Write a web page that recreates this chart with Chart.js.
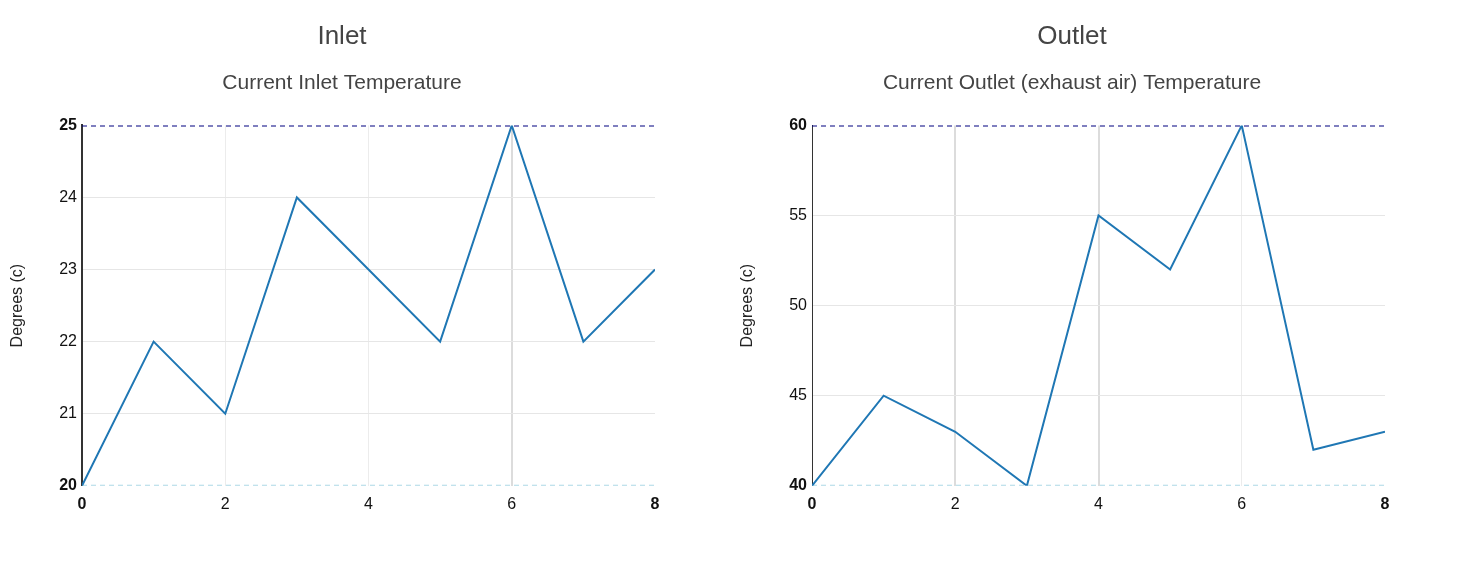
<!DOCTYPE html>
<html><head><meta charset="utf-8">
<script src="https://cdn.jsdelivr.net/npm/chart.js@4/dist/chart.umd.min.js"></script>
<style>
body{margin:0;background:#fff;width:1460px;height:569px;overflow:hidden;position:relative;}
canvas.c{position:absolute;top:0;}
</style></head><body>
<canvas id="c1" class="c" width="686" height="569" style="left:0px"></canvas>
<canvas id="c2" class="c" width="686" height="569" style="left:730px"></canvas>
<script>
const xValues = [0, 1, 2, 3, 4, 5, 6, 7, 8];
const inletTemps = [20, 22, 21, 24, 23, 22, 25, 22, 23];
const outletTemps = [40, 45, 43, 40, 55, 52, 60, 42, 43];
const inletRange = [20, 25];
const outletRange = [40, 60];
const inletStep = 1;
const outletStep = 5;
const xTickStep = 2;
const titles = ['Inlet', 'Outlet'];
const subtitles = ['Current Inlet Temperature', 'Current Outlet (exhaust air) Temperature'];
const yAxisTitle = 'Degrees (c)';

const FONT = "'Liberation Sans', Arial, sans-serif";
Chart.defaults.font.family = FONT;
Chart.defaults.color = '#222';

function makeChart(id, values, range, step, strongGrid, borderW, title, subtitle) {
  const xmin = xValues[0], xmax = xValues[xValues.length - 1];
  const pts = xValues.map((x, i) => ({x, y: values[i]}));
  new Chart(document.getElementById(id), {
    type: 'line',
    data: {
      datasets: [
        {data: pts, borderColor: '#1f77b4', borderWidth: 2, pointRadius: 0, tension: 0, order: 1},
        {data: [{x: xmin, y: range[1]}, {x: xmax, y: range[1]}], borderColor: '#000080', borderWidth: 2, borderDash: [5, 4], pointRadius: 0, order: 2},
        {data: [{x: xmin, y: range[0]}, {x: xmax, y: range[0]}], borderColor: '#add8e6', borderWidth: 2, borderDash: [5, 4], pointRadius: 0, order: 2}
      ]
    },
    options: {
      responsive: false,
      animation: false,
      layout: {padding: {left: 0, right: 2, top: 0, bottom: 46}},
      plugins: {
        legend: {display: false},
        tooltip: {enabled: false},
        title: {display: true, text: title, color: '#444', font: {size: 26, weight: 'normal', family: FONT}, padding: {top: 21, bottom: 10}},
        subtitle: {display: true, text: subtitle, color: '#444', font: {size: 21, weight: 'normal', family: FONT}, padding: {top: 8, bottom: 30}}
      },
      scales: {
        x: {
          type: 'linear', min: xmin, max: xmax,
          ticks: {stepSize: xTickStep, padding: 9, color: '#111',
            font: c => ({size: 16, family: FONT, weight: (c.tick && (c.tick.value === xmin || c.tick.value === xmax)) ? 'bold' : 'normal'})},
          grid: {drawTicks: false,
            color: c => (c.tick && (c.tick.value === xmin || c.tick.value === xmax)) ? 'rgba(0,0,0,0)' : (strongGrid.includes(c.tick && c.tick.value) ? '#dcdcdc' : '#ececec'),
            lineWidth: c => strongGrid.includes(c.tick && c.tick.value) ? 2 : 1},
          border: {display: false}
        },
        y: {
          min: range[0], max: range[1],
          afterFit: s => { s.width = 82; },
          ticks: {stepSize: step, padding: 5, color: '#111',
            font: c => ({size: 16, family: FONT, weight: (c.tick && (c.tick.value === range[0] || c.tick.value === range[1])) ? 'bold' : 'normal'})},
          grid: {drawTicks: false,
            color: c => (c.tick && (c.tick.value === range[0] || c.tick.value === range[1])) ? 'rgba(0,0,0,0)' : '#e6e6e6',
            lineWidth: 1},
          border: {display: true, color: '#333', width: borderW},
          title: {display: true, text: yAxisTitle, color: '#222', font: {size: 16, family: FONT}, padding: {top: 8, bottom: 0}}
        },
        yRight: {
          position: 'right', min: range[0], max: range[1],
          afterFit: s => { s.width = 29; },
          ticks: {display: false},
          grid: {display: false, drawOnChartArea: false},
          border: {display: false}
        }
      }
    }
  });
}

makeChart('c1', inletTemps, inletRange, inletStep, [6], 2, titles[0], subtitles[0]);
makeChart('c2', outletTemps, outletRange, outletStep, [2, 4], 1, titles[1], subtitles[1]);
</script>
</body></html>
